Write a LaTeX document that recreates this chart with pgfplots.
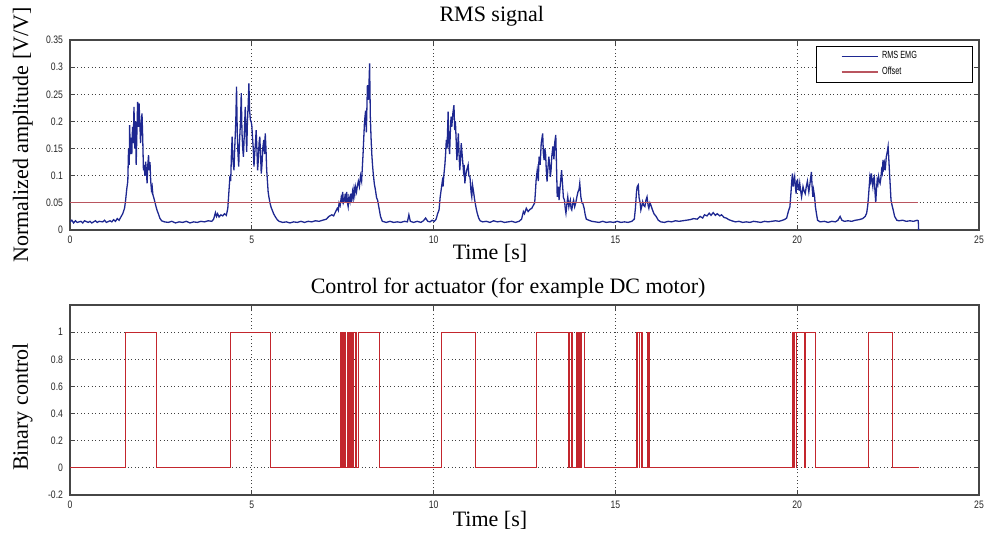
\documentclass[border=0pt]{standalone}
\usepackage{fontspec}
\setmainfont{Liberation Serif}
\newfontfamily\tickfont[FakeStretch=0.8]{Liberation Sans}
\newfontfamily\legfont[FakeStretch=0.7]{Liberation Sans}
\usepackage{pgfplots}
\usepackage{pgfplotstable}
\pgfplotsset{compat=1.18}
\definecolor{emgblue}{RGB}{30,40,145}
\definecolor{offred}{RGB}{185,85,95}
\definecolor{ctrlred}{RGB}{195,38,45}
\definecolor{framegray}{RGB}{70,70,70}

\pgfplotstableread{
t v
0 0.015
0.05 0.018
0.1 0.013
0.15 0.017
0.2 0.014
0.3 0.016
0.35 0.013
0.4 0.017
0.5 0.014
0.55 0.016
0.6 0.013
0.7 0.017
0.75 0.014
0.8 0.016
0.9 0.015
0.95 0.018
1.0 0.014
1.1 0.017
1.15 0.015
1.2 0.019
1.25 0.016
1.3 0.021
1.35 0.018
1.4 0.024
1.45 0.03
1.5 0.04
1.53 0.055
1.56 0.075
1.59 0.09
1.61 0.15
1.63 0.12
1.64 0.193
1.66 0.14
1.68 0.17
1.7 0.14
1.72 0.19
1.74 0.16
1.76 0.227
1.78 0.15
1.80 0.2
1.82 0.12
1.84 0.18
1.86 0.236
1.88 0.19
1.9 0.233
1.92 0.2
1.94 0.16
1.96 0.19
1.98 0.215
2.0 0.17
2.02 0.11
2.04 0.12
2.06 0.10
2.08 0.126
2.1 0.11
2.12 0.086
2.14 0.12
2.16 0.138
2.18 0.11
2.2 0.125
2.22 0.09
2.24 0.074
2.26 0.08
2.28 0.065
2.31 0.058
2.34 0.05
2.37 0.042
2.4 0.035
2.43 0.03
2.47 0.022
2.52 0.017
2.6 0.015
2.7 0.014
2.8 0.016
2.9 0.013
3.0 0.015
3.1 0.014
3.2 0.016
3.3 0.013
3.4 0.015
3.5 0.014
3.6 0.016
3.7 0.015
3.8 0.017
3.9 0.016
3.95 0.02
4.0 0.032
4.03 0.025
4.06 0.03
4.1 0.024
4.15 0.028
4.2 0.026
4.25 0.03
4.3 0.027
4.34 0.04
4.37 0.07
4.4 0.1
4.42 0.09
4.44 0.14
4.46 0.172
4.48 0.13
4.51 0.11
4.53 0.15
4.56 0.2
4.58 0.264
4.6 0.18
4.62 0.14
4.64 0.117
4.66 0.16
4.69 0.2
4.71 0.252
4.73 0.18
4.75 0.15
4.77 0.135
4.79 0.17
4.82 0.227
4.84 0.18
4.86 0.144
4.88 0.2
4.90 0.23
4.92 0.27
4.94 0.22
4.96 0.203
4.98 0.2
5.0 0.193
5.02 0.17
5.04 0.15
5.06 0.117
5.08 0.14
5.1 0.16
5.12 0.184
5.14 0.15
5.16 0.11
5.18 0.13
5.2 0.16
5.22 0.172
5.24 0.14
5.26 0.104
5.28 0.12
5.3 0.15
5.33 0.166
5.35 0.14
5.37 0.178
5.39 0.15
5.41 0.11
5.43 0.09
5.45 0.07
5.47 0.061
5.5 0.05
5.53 0.042
5.56 0.037
5.6 0.03
5.65 0.024
5.7 0.019
5.75 0.016
5.85 0.014
5.95 0.015
6.05 0.013
6.15 0.015
6.25 0.014
6.35 0.016
6.45 0.014
6.55 0.016
6.65 0.015
6.75 0.017
6.85 0.016
6.95 0.018
7.05 0.02
7.12 0.025
7.2 0.028
7.25 0.026
7.3 0.033
7.35 0.04
7.38 0.036
7.4 0.05
7.43 0.045
7.46 0.06
7.48 0.055
7.5 0.07
7.52 0.05
7.55 0.055
7.57 0.067
7.59 0.05
7.61 0.07
7.63 0.05
7.65 0.043
7.67 0.06
7.7 0.052
7.72 0.067
7.74 0.05
7.77 0.07
7.79 0.06
7.81 0.075
7.83 0.065
7.85 0.08
7.88 0.07
7.9 0.08
7.93 0.09
7.96 0.08
7.99 0.1
8.02 0.09
8.06 0.14
8.1 0.2
8.13 0.22
8.15 0.18
8.18 0.267
8.21 0.24
8.24 0.307
8.26 0.209
8.28 0.17
8.3 0.14
8.32 0.12
8.34 0.104
8.37 0.085
8.4 0.074
8.43 0.06
8.46 0.055
8.5 0.04
8.54 0.025
8.59 0.016
8.7 0.014
8.8 0.016
8.9 0.014
9.0 0.015
9.1 0.014
9.2 0.016
9.28 0.015
9.32 0.028
9.36 0.016
9.45 0.014
9.55 0.016
9.65 0.014
9.72 0.017
9.78 0.022
9.84 0.016
9.9 0.015
9.96 0.018
10.02 0.016
10.07 0.02
10.11 0.03
10.15 0.037
10.18 0.06
10.21 0.075
10.24 0.09
10.26 0.08
10.28 0.1
10.31 0.12
10.33 0.14
10.35 0.166
10.37 0.15
10.4 0.218
10.42 0.16
10.44 0.14
10.46 0.18
10.48 0.209
10.5 0.19
10.53 0.215
10.56 0.23
10.58 0.184
10.6 0.2
10.62 0.166
10.64 0.129
10.66 0.15
10.68 0.178
10.7 0.14
10.72 0.11
10.74 0.13
10.76 0.16
10.79 0.135
10.82 0.11
10.84 0.12
10.86 0.086
10.88 0.1
10.91 0.11
10.95 0.12
10.97 0.1
11.0 0.098
11.03 0.07
11.05 0.061
11.07 0.083
11.1 0.07
11.13 0.055
11.17 0.04
11.2 0.031
11.24 0.022
11.28 0.017
11.35 0.015
11.45 0.016
11.55 0.014
11.65 0.017
11.75 0.015
11.85 0.016
11.95 0.014
12.05 0.015
12.15 0.016
12.25 0.014
12.35 0.016
12.42 0.02
12.47 0.034
12.5 0.03
12.55 0.04
12.6 0.034
12.65 0.038
12.7 0.04
12.74 0.045
12.78 0.05
12.8 0.07
12.82 0.092
12.85 0.11
12.88 0.09
12.9 0.135
12.93 0.12
12.96 0.16
13.0 0.178
13.02 0.14
13.04 0.129
13.06 0.15
13.08 0.14
13.1 0.11
13.12 0.089
13.14 0.11
13.17 0.135
13.19 0.12
13.21 0.098
13.23 0.11
13.25 0.135
13.28 0.154
13.31 0.13
13.33 0.16
13.36 0.175
13.38 0.12
13.4 0.061
13.43 0.08
13.45 0.055
13.48 0.08
13.5 0.095
13.52 0.11
13.55 0.08
13.57 0.06
13.6 0.055
13.62 0.04
13.64 0.031
13.67 0.05
13.69 0.061
13.72 0.043
13.74 0.05
13.76 0.055
13.78 0.04
13.8 0.037
13.83 0.05
13.85 0.055
13.88 0.043
13.91 0.05
13.94 0.061
13.97 0.07
14.0 0.075
14.02 0.086
14.05 0.061
14.08 0.05
14.1 0.05
14.14 0.04
14.17 0.028
14.2 0.02
14.27 0.018
14.35 0.016
14.45 0.015
14.55 0.014
14.65 0.016
14.75 0.014
14.85 0.015
14.95 0.014
15.05 0.016
15.15 0.014
15.25 0.015
15.35 0.014
15.45 0.016
15.52 0.02
15.55 0.04
15.58 0.07
15.6 0.08
15.63 0.083
15.65 0.06
15.68 0.05
15.7 0.037
15.73 0.045
15.75 0.052
15.78 0.045
15.81 0.043
15.84 0.055
15.87 0.061
15.9 0.045
15.92 0.04
15.95 0.05
15.98 0.045
16.02 0.037
16.06 0.03
16.12 0.025
16.18 0.018
16.25 0.015
16.35 0.014
16.45 0.016
16.55 0.015
16.65 0.017
16.75 0.016
16.85 0.017
16.95 0.018
17.05 0.019
17.15 0.021
17.25 0.02
17.33 0.025
17.4 0.022
17.45 0.028
17.52 0.026
17.58 0.031
17.63 0.027
17.69 0.032
17.75 0.027
17.8 0.03
17.87 0.026
17.92 0.028
17.99 0.023
18.05 0.022
18.12 0.019
18.2 0.017
18.3 0.015
18.4 0.016
18.5 0.014
18.6 0.015
18.7 0.014
18.8 0.016
18.9 0.015
19.0 0.014
19.1 0.016
19.2 0.015
19.3 0.016
19.4 0.017
19.5 0.016
19.6 0.018
19.67 0.02
19.71 0.022
19.76 0.035
19.8 0.043
19.83 0.07
19.85 0.09
19.87 0.104
19.89 0.08
19.91 0.09
19.93 0.098
19.95 0.08
19.97 0.067
19.99 0.09
20.01 0.092
20.03 0.075
20.05 0.074
20.07 0.086
20.09 0.075
20.12 0.061
20.14 0.07
20.16 0.08
20.19 0.072
20.22 0.067
20.25 0.08
20.28 0.09
20.32 0.07
20.35 0.085
20.39 0.107
20.41 0.08
20.43 0.061
20.45 0.074
20.48 0.06
20.5 0.043
20.53 0.03
20.56 0.018
20.63 0.015
20.75 0.016
20.85 0.014
20.95 0.016
21.05 0.015
21.12 0.018
21.18 0.025
21.23 0.018
21.3 0.016
21.4 0.017
21.5 0.016
21.6 0.018
21.7 0.019
21.8 0.021
21.87 0.025
21.91 0.031
21.94 0.045
21.96 0.061
21.98 0.08
22.0 0.098
22.02 0.09
22.04 0.104
22.06 0.09
22.08 0.08
22.1 0.095
22.12 0.098
22.14 0.07
22.16 0.05
22.18 0.075
22.2 0.092
22.22 0.085
22.24 0.098
22.26 0.09
22.28 0.086
22.3 0.095
22.32 0.11
22.34 0.105
22.36 0.129
22.38 0.115
22.4 0.123
22.42 0.11
22.45 0.135
22.48 0.145
22.5 0.154
22.52 0.13
22.54 0.104
22.56 0.08
22.58 0.055
22.61 0.045
22.64 0.037
22.68 0.025
22.74 0.018
22.8 0.017
22.9 0.018
23.0 0.016
23.1 0.017
23.2 0.016
23.3 0.018
23.33 0.017
23.34 0
}\rmsdata

\pgfplotsset{
  matlabstyle/.style={
    scale only axis,
    width=454.5bp, height=95bp,
    xmin=0, xmax=25,
    xtick={0,5,10,15,20,25},
    xticklabels={0,5,10,15,20,25},
    tick align=inside,
    xtick pos=both, ytick pos=both,
    major tick length=2.5bp,
    grid=major,
    grid style={black!75, line width=0.4bp, dash pattern=on 0.5bp off 1.3bp},
    axis line style={framegray, line width=0.6bp},
    every tick/.style={framegray, line width=0.5bp},
    tick label style={font=\tickfont\fontsize{5.4bp}{6.4bp}\selectfont, text=black!85},
    xticklabel style={yshift=0.5bp},
    label style={font=\fontsize{11bp}{13bp}\selectfont},
    title style={font=\fontsize{11bp}{13bp}\selectfont},
  }
}

\begin{document}
\begin{tikzpicture}
\useasboundingbox (-35bp,20bp) rectangle (459bp,-246.5bp);
\begin{axis}[matlabstyle,
  at={(0,0)}, anchor=north west,
  ymin=0, ymax=0.35,
  ytick={0,0.05,0.1,0.15,0.2,0.25,0.3,0.35},
  yticklabels={0,0.05,0.1,0.15,0.2,0.25,0.3,0.35},
  title={RMS signal},
  title style={at={(axis description cs:0.464,1)}, anchor=center, yshift=6bp},
  xlabel={Time [s]},
  xlabel style={at={(axis description cs:0.462,0)}, anchor=center, yshift=-11.5bp},
  ylabel={Normalized amplitude [V/V]},
  ylabel style={at={(axis description cs:-0.052,0.5)}, anchor=center, rotate=0},
  legend style={at={(axis description cs:0.993,0.968)}, anchor=north east,
    draw=black, line width=0.5bp, fill=white,
    font=\legfont\fontsize{5.2bp}{6bp}\selectfont,
    inner xsep=0bp, inner ysep=0.4bp, row sep=-1.4bp},
  legend cell align=left,
  legend image code/.code={\path (0bp,0bp); \draw[#1] (12bp,0bp) -- (30bp,0bp);},
]
\addplot[emgblue, line width=0.65bp] table[x=t, y=v] {\rmsdata};
\addlegendentry{\makebox[43bp][l]{RMS EMG}}
\addplot[offred, line width=0.6bp] coordinates {(0,0.05) (23.33,0.05)};
\addlegendentry{\makebox[43bp][l]{Offset}}
\end{axis}

\begin{axis}[matlabstyle,
  at={(0,-132.5bp)}, anchor=north west,
  ymin=-0.2, ymax=1.2,
  ytick={-0.2,0,0.2,0.4,0.6,0.8,1},
  yticklabels={-0.2,0,0.2,0.4,0.6,0.8,1},
  title={Control for actuator (for example DC motor)},
  title style={at={(axis description cs:0.482,1)}, anchor=center, yshift=2.5bp},
  xlabel={Time [s]},
  xlabel style={at={(axis description cs:0.462,0)}, anchor=center, yshift=-12.5bp},
  ylabel={Binary control},
  ylabel style={at={(axis description cs:-0.052,0.463)}, anchor=center, rotate=0},
]
\addplot[ctrlred, line width=0.5bp] coordinates {
(0,0)(1.54,0)(1.54,1)(2.38,1)(2.38,0)(4.42,0)(4.42,1)(5.52,1)(5.52,0)
(7.43,0)(7.43,1)(7.46,1)(7.46,0)(7.47,0)(7.47,1)(7.50,1)(7.50,0)(7.51,0)(7.51,1)(7.54,1)(7.54,0)(7.55,0)(7.55,1)(7.59,1)(7.59,0)
(7.63,0)(7.63,1)(7.65,1)(7.65,0)(7.66,0)(7.66,1)(7.68,1)(7.68,0)
(7.72,0)(7.72,1)(7.74,1)(7.74,0)(7.75,0)(7.75,1)(7.76,1)(7.76,0)
(7.81,0)(7.81,1)(7.84,1)(7.84,0)(7.85,0)(7.85,1)(7.88,1)(7.88,0)
(7.94,0)(7.94,1)(8.51,1)(8.51,0)
(10.23,0)(10.23,1)(11.14,1)(11.14,0)
(12.82,0)(12.82,1)(13.70,1)(13.70,0)(13.71,0)(13.71,1)(13.74,1)(13.74,0)(13.75,0)(13.75,1)(13.78,1)(13.78,0)(13.79,0)(13.79,1)(13.81,1)(13.81,0)
(13.93,0)(13.93,1)(13.97,1)(13.97,0)(13.98,0)(13.98,1)(14.02,1)(14.02,0)(14.03,0)(14.03,1)(14.07,1)(14.07,0)(14.08,0)(14.08,1)(14.14,1)(14.14,0)
(15.57,0)(15.57,1)(15.61,1)(15.61,0)(15.62,0)(15.62,1)(15.66,1)(15.66,0)(15.67,0)(15.67,1)(15.71,1)(15.71,0)(15.72,0)(15.72,1)(15.75,1)(15.75,0)
(15.88,0)(15.88,1)(15.90,1)(15.90,0)(15.91,0)(15.91,1)(15.93,1)(15.93,0)
(19.86,0)(19.86,1)(19.91,1)(19.91,0)(19.915,0)(19.915,1)(19.97,1)(19.97,0)(19.98,0)(19.98,1)(20.21,1)(20.21,0)(20.215,0)(20.215,1)(20.51,1)(20.51,0)
(21.96,0)(21.96,1)(22.62,1)(22.62,0)(23.36,0)
};
\end{axis}
\end{tikzpicture}
\end{document}
